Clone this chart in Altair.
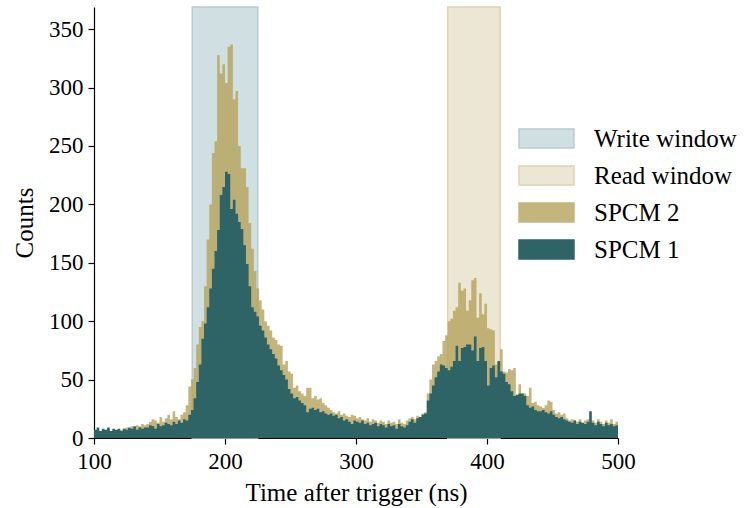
import altair as alt
import pandas as pd

FONT = "Liberation Serif"

BIN_WIDTH = 2
BIN_STARTS = list(range(100, 500, BIN_WIDTH))

SPCM1 = [
    7, 9, 6, 8, 7, 9, 6, 8, 7, 8,
    6, 8, 7, 9, 8, 10, 7, 9, 8, 9,
    9, 11, 10, 8, 12, 10, 11, 13, 12, 11,
    14, 12, 15, 13, 16, 15, 20, 24, 34, 48,
    63, 85, 98, 112, 128, 145, 160, 178, 208, 215,
    228, 226, 196, 204, 192, 185, 179, 165, 149, 130,
    112, 108, 104, 96, 92, 86, 80, 76, 72, 68,
    62, 58, 54, 50, 42, 38, 34, 35, 32, 30,
    28, 22, 25, 26, 24, 25, 22, 23, 21, 20,
    21, 19, 20, 17, 18, 15, 16, 14, 12, 15,
    14, 13, 15, 12, 13, 11, 12, 13, 10, 12,
    11, 9, 12, 10, 11, 8, 12, 10, 9, 11,
    14, 16, 13, 17, 18, 20, 21, 32, 38, 45,
    52, 57, 63, 62, 60, 58, 61, 66, 79, 66,
    77, 78, 80, 80, 75, 87, 66, 77, 78, 66,
    45, 60, 62, 52, 66, 57, 55, 48, 46, 40,
    36, 37, 38, 38, 36, 28, 26, 27, 24, 23,
    23, 24, 22, 21, 23, 20, 18, 17, 18, 16,
    15, 14, 13, 15, 12, 14, 13, 12, 14, 23,
    13, 11, 14, 12, 10, 13, 11, 12, 10, 11,
]

SPCM2 = [
    6, 7, 5, 7, 6, 8, 5, 7, 6, 7,
    7, 8, 9, 8, 10, 9, 11, 10, 12, 11,
    12, 14, 16, 15, 13, 18, 14, 17, 20, 16,
    23, 18, 16, 20, 22, 28, 44, 50, 60, 80,
    95, 100, 130, 170, 200, 244, 254, 328, 312, 320,
    304, 335, 337, 290, 297, 250, 231, 231, 215, 184,
    162, 143, 128, 118, 110, 100, 96, 92, 86, 84,
    80, 79, 63, 66, 57, 55, 43, 45, 40, 38,
    36, 43, 43, 34, 36, 33, 34, 30, 28, 26,
    24, 22, 21, 23, 20, 21, 19, 18, 20, 19,
    17, 18, 16, 15, 17, 14, 16, 15, 13, 15,
    14, 12, 15, 13, 14, 12, 16, 13, 12, 15,
    17, 18, 16, 19, 17, 21, 22, 38, 50, 63,
    66, 70, 72, 83, 88, 100, 102, 109, 112, 133,
    126, 128, 109, 118, 135, 137, 103, 124, 106, 115,
    94, 93, 92, 63, 65, 76, 57, 56, 59, 58,
    60, 34, 46, 38, 38, 36, 43, 30, 31, 28,
    27, 26, 28, 32, 31, 24, 21, 22, 20, 21,
    17, 15, 16, 15, 14, 16, 13, 15, 16, 14,
    15, 13, 16, 14, 12, 15, 13, 16, 12, 14,
]

WINDOW_NAMES = ["Write window", "Read window"]
WINDOW_START = [175, 370]
WINDOW_END = [225, 410]

LEGEND_ITEMS = ["Write window", "Read window", "SPCM 2", "SPCM 1"]
LEGEND_FILLS = ["#d0dfe1", "#ece6d4", "#c4b57c", "#2e6466"]
LEGEND_STROKES = ["#b7ccd0", "#ddd4b4", "#c4b57c", "#2e6466"]

X_TICKS = [100, 200, 300, 400, 500]
Y_TICKS = [0, 50, 100, 150, 200, 250, 300, 350]

edges = BIN_STARTS + [BIN_STARTS[-1] + BIN_WIDTH]
hist = pd.DataFrame({
    "t": edges,
    "spcm1": SPCM1 + [SPCM1[-1]],
    "spcm2": SPCM2 + [SPCM2[-1]],
})
win = pd.DataFrame({"name": WINDOW_NAMES, "start": WINDOW_START, "end": WINDOW_END})

x_scale = alt.Scale(domain=[100, 500], nice=False, zero=False)
y_scale = alt.Scale(domain=[0, 369], nice=False)

x_axis = alt.Axis(values=X_TICKS, title="Time after trigger (ns)", grid=False,
                  labelPadding=6, titlePadding=7, format="d", labelFlush=False,
                  labelFontSize=23, titleFontSize=25)
y_axis = alt.Axis(values=Y_TICKS, title="Counts", grid=False,
                  labelPadding=5, titlePadding=11, format="d", labelFlush=False,
                  labelFontSize=23, titleFontSize=25)

legend = alt.Legend(
    title=None, orient="none", legendX=438, legendY=117,
    symbolType="M-2,-0.69H2V0.69H-2Z", symbolSize=756,
    symbolStrokeWidth=1.5, symbolOpacity=1,
    labelFont=FONT, labelFontSize=25, labelColor="black",
    labelOffset=33, rowPadding=9, padding=0,
)

windows = alt.Chart(win).mark_rect(strokeWidth=1.5).encode(
    x=alt.X("start:Q", scale=x_scale, axis=x_axis),
    x2="end:Q",
    color=alt.Color("name:N", scale=alt.Scale(domain=LEGEND_ITEMS, range=LEGEND_FILLS), legend=legend),
    stroke=alt.Stroke("name:N", scale=alt.Scale(domain=LEGEND_ITEMS, range=LEGEND_STROKES), legend=legend),
)

spcm2 = alt.Chart(hist).mark_area(interpolate="step-after", color="#b5a35b", opacity=0.8).encode(
    x=alt.X("t:Q", scale=x_scale, axis=x_axis),
    y=alt.Y("spcm2:Q", scale=y_scale, axis=y_axis),
)

spcm1 = alt.Chart(hist).mark_area(interpolate="step-after", color="#2e6466", opacity=1).encode(
    x=alt.X("t:Q", scale=x_scale, axis=x_axis),
    y=alt.Y("spcm1:Q", scale=y_scale, axis=y_axis),
)

chart = alt.layer(windows, spcm2, spcm1).properties(
    width=524, height=431,
    padding={"left": 94, "top": 7, "right": 130, "bottom": 70},
    autosize=alt.AutoSizeParams(type="none"),
).configure_view(stroke=None).configure_axis(
    domainColor="black", tickColor="black", labelColor="black", titleColor="black",
    labelFont=FONT, titleFont=FONT,
    titleFontWeight="normal", tickSize=6, domainWidth=1.2, tickWidth=1.2,
)

chart.save("out.html", embed_options={"renderer": "svg", "actions": False})
